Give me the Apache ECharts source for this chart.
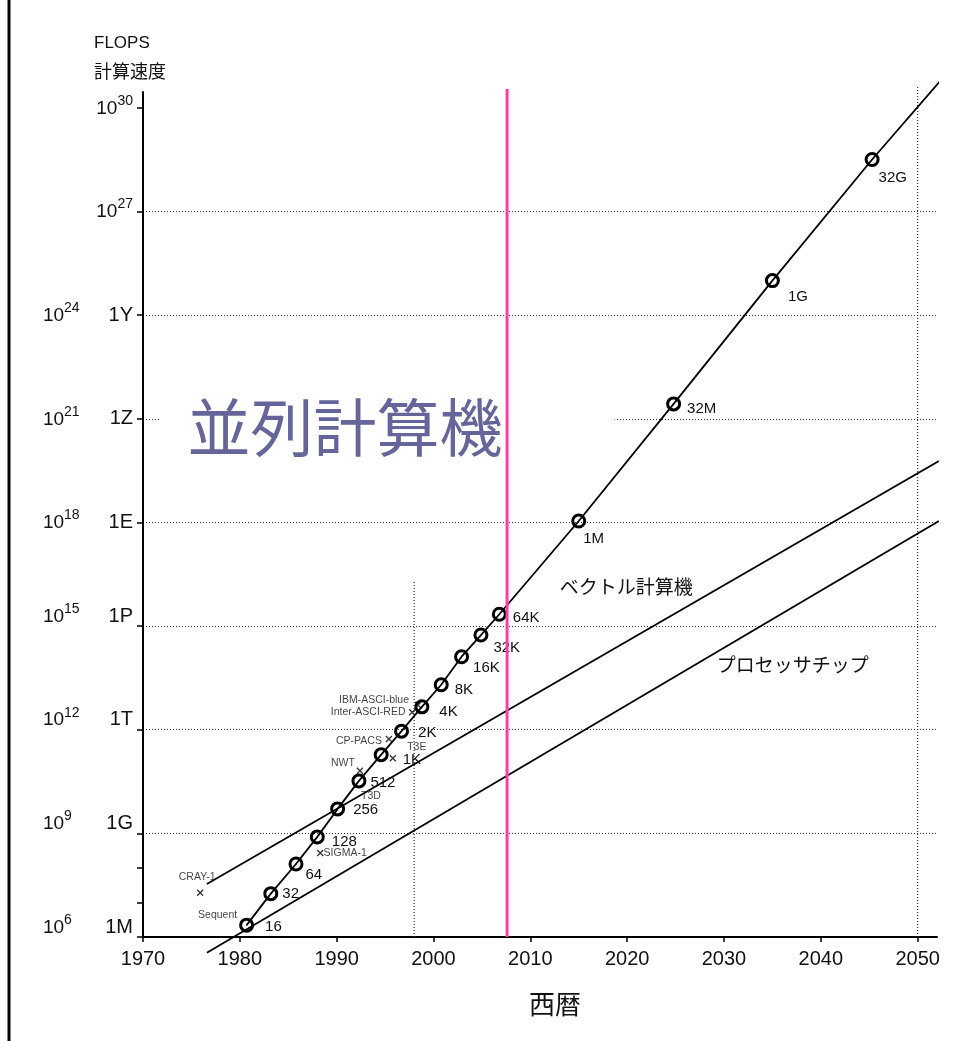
<!DOCTYPE html>
<html>
<head>
<meta charset="utf-8">
<script src="https://cdn.jsdelivr.net/npm/echarts@6/dist/echarts.min.js"></script>
<style>
  html, body { margin: 0; padding: 0; background: #fff; }
  #chart { width: 961px; height: 1041px; }
</style>
</head>
<body>
<div id="chart"></div>
<script>
// ---- data ---------------------------------------------------------------
// Parallel computers: processor count, year, peak FLOPS
const parallelLabels = ['16', '32', '64', '128', '256', '512', '1K', '2K', '4K', '8K', '16K', '32K', '64K', '1M', '32M', '1G', '32G'];
const parallelYears  = [1980.7, 1983.2, 1985.8, 1988.0, 1990.1, 1992.3, 1994.6, 1996.7, 1998.8, 2000.8, 2002.9, 2004.9, 2006.8, 2015.0, 2024.8, 2035.0, 2045.3];
const parallelFlops  = [2.2e6, 1.8e7, 1.3e8, 7.9e8, 5.1e9, 3.3e10, 1.9e11, 9.1e11, 4.6e12, 2.0e13, 1.3e14, 5.5e14, 2.2e15, 1.1e18, 2.7e21, 1.0e25, 3.2e28];
const parallelTrendEnd = [2052.6, 7.4e30];

// Vector computer and processor chip trend lines (start, end)
const vectorYears = [1976.6, 2052.2];
const vectorFlops = [3.4e7, 6.0e19];
const chipYears   = [1976.6, 2052.2];
const chipFlops   = [3.5e5, 1.1e18];

// Individual machines
const machineNames = ['CRAY-1', 'Sequent', 'SIGMA-1', 'T3D', 'NWT', 'CP-PACS', 'T3E', 'Inter-ASCI-RED', 'IBM-ASCI-blue'];
const machineYears = [1975.9, 1980.7, 1988.3, 1992.3, 1992.4, 1995.4, 1995.8, 1997.8, 1998.4];
const machineFlops = [1.9e7, 2.2e6, 2.7e8, 3.3e10, 6.5e10, 5.4e11, 1.5e11, 3.2e12, 5.2e12];
const machineHidden = ['Sequent', 'T3D'];   // drawn under the parallel-machine circles

// Present year marker and dotted guides
const nowYear = 2007.6;
const guideYears = [1998, 2050];
const guideTops  = [1.9e16, 4.6e30];

// Axis ticks
const xTicks = [1970, 1980, 1990, 2000, 2010, 2020, 2030, 2040, 2050];
const yTickExp = [6, 9, 12, 15, 18, 21, 24, 27, 30];
const yMinorExp = [7, 8];
const yUnits = { 6: '1M', 9: '1G', 12: '1T', 15: '1P', 18: '1E', 21: '1Z', 24: '1Y' };

// ---- styling helpers ----------------------------------------------------
const lg = Math.log10;
const LATIN = "'Liberation Sans', Arial, 'Noto Sans CJK JP', sans-serif";
const CJK = "'Noto Sans CJK JP', 'Noto Sans CJK SC', sans-serif";
const Y_MAX = 30.46;

// label offsets for the parallel-machine circles ([dx, dy] from 'right')
const parallelLabelOffsets = [[6, 2], [-1, 0], [-3, 11], [2, 5], [3, 1], [-1, 2], [9, 5], [4, 2], [5, 5], [1, 5], [-1, 11], [0, 13], [1, 4], [-8, 18], [1, 5], [3, 16], [-6, 18]];
// label offsets for machine annotations (centre of text relative to point)
const machineLabelOffsets = [[-3, -16], [-29, -10], [25, 0], [12, 15], [-17, -8], [-30, 2], [24, -11], [-44, 0], [-44, -5]];

const crossPath = 'path://M0,0L10,10M10,0L0,10';

// Rich styles for the y labels: "10" + superscript exponent + unit name.
// Labels of the lower decades sit a little above their tick.
const yRich = {};
yTickExp.forEach(e => {
  const shift = e <= 15 ? 10 : 0;
  const hasUnit = !!yUnits[e];
  const supW = String(e).length * 7.8;
  const base = { verticalAlign: 'bottom', fontFamily: LATIN, color: '#111' };
  yRich['n' + e] = Object.assign({}, base, { fontSize: 19, lineHeight: 20, padding: [0, 0, shift, 0] });
  yRich['s' + e] = Object.assign({}, base, { fontSize: 14, lineHeight: 14,
    padding: [0, hasUnit ? Math.max(0, 26 - supW) : 0, 10 + shift, 0] });
  yRich['u' + e] = Object.assign({}, base, { fontSize: 20, lineHeight: 20, width: 43, align: 'right', padding: [0, 0, shift, 0] });
});

function yLabel(v) {
  const e = Math.round(v);
  const unit = yUnits[e];
  if (!unit) return `{n${e}|10}{s${e}|${e}}`;
  return `{n${e}|10}{s${e}|${e}}{u${e}|${unit}}`;
}

// ---- series -------------------------------------------------------------
const parallelData = parallelYears.map((y, i) => ({
  value: [y, lg(parallelFlops[i])],
  name: parallelLabels[i],
  label: { offset: parallelLabelOffsets[i] }
}));
parallelData.push({
  value: [parallelTrendEnd[0], lg(parallelTrendEnd[1])],
  symbol: 'none',
  label: { show: false }
});

const machineData = machineNames.map((n, i) => {
  const hidden = machineHidden.indexOf(n) >= 0;
  return {
    value: [machineYears[i], lg(machineFlops[i])],
    name: n,
    symbolSize: hidden ? 0.5 : 6,
    label: { offset: machineLabelOffsets[i] }
  };
});

const guideSeries = guideYears.map((x, i) => ({
  type: 'line',
  data: [[x, 6], [x, lg(guideTops[i])]],
  symbol: 'none',
  clip: false,
  silent: true,
  z: 1,
  lineStyle: { color: '#333', width: 1.2, type: [1, 2] }
}));

const trendLine = { color: '#000', width: 1.8 };

const option = {
  animation: false,
  backgroundColor: '#fff',
  textStyle: { fontFamily: LATIN },
  title: {
    text: '{a|FLOPS}\n{b|計算速度}',
    left: 89, top: 24,
    textStyle: {
      fontWeight: 'normal',
      rich: {
        a: { fontSize: 17, fontFamily: LATIN, fontWeight: 'normal', color: '#111', lineHeight: 28 },
        b: { fontSize: 18, fontFamily: CJK, fontWeight: 'normal', color: '#111', lineHeight: 28 }
      }
    }
  },
  grid: { left: 143, right: 24, top: 92, bottom: 104, containLabel: false },
  xAxis: {
    type: 'value',
    min: 1970, max: 2052, interval: 10,
    name: '西暦',
    nameLocation: 'middle',
    nameGap: 54,
    nameTextStyle: { fontFamily: CJK, fontSize: 26, color: '#111', padding: [0, 0, 0, 30] },
    axisLine: { lineStyle: { color: '#000', width: 2 } },
    axisTick: { customValues: xTicks, length: 5, lineStyle: { color: '#000', width: 1.5 } },
    axisLabel: { customValues: xTicks, formatter: v => String(v), fontSize: 20, color: '#111', margin: 12, fontFamily: LATIN },
    splitLine: { show: false }
  },
  yAxis: [{
    type: 'value',
    min: 6, max: Y_MAX, interval: 3,
    axisLine: { lineStyle: { color: '#000', width: 2 } },
    axisTick: { customValues: yTickExp, length: 6, lineStyle: { color: '#000', width: 1.5 } },
    axisLabel: { customValues: yTickExp, margin: 10, formatter: yLabel, rich: yRich },
    splitLine: { show: true, showMinLine: false, showMaxLine: false, lineStyle: { color: '#333', width: 1.2, type: [1, 2] } }
  }, {
    type: 'value',
    min: 6, max: Y_MAX,
    position: 'left',
    axisLine: { show: false },
    axisLabel: { show: false },
    splitLine: { show: false },
    axisTick: { show: true, customValues: yMinorExp, length: 6, lineStyle: { color: '#000', width: 1.5 } }
  }],
  graphic: [{
    type: 'line',
    shape: { x1: 9, y1: 0, x2: 9, y2: 1041 },
    style: { stroke: '#000', lineWidth: 3 },
    silent: true
  }],
  series: [
    ...guideSeries,
    {
      name: 'プロセッサチップ',
      type: 'line',
      data: chipYears.map((y, i) => [y, lg(chipFlops[i])]),
      symbol: 'none',
      clip: false,
      z: 2,
      lineStyle: trendLine,
      markPoint: {
        symbol: 'circle', symbolSize: 0,
        data: [{ coord: [2037.1, 13.87], value: 'プロセッサチップ' }],
        label: { show: true, position: 'inside', formatter: '{c}', fontFamily: CJK, fontSize: 19, color: '#111' }
      }
    },
    {
      name: 'ベクトル計算機',
      type: 'line',
      data: vectorYears.map((y, i) => [y, lg(vectorFlops[i])]),
      symbol: 'none',
      clip: false,
      z: 2,
      lineStyle: trendLine,
      markPoint: {
        symbol: 'circle', symbolSize: 0,
        data: [{ coord: [2019.9, 16.13], value: 'ベクトル計算機' }],
        label: { show: true, position: 'inside', formatter: '{c}', fontFamily: CJK, fontSize: 19, color: '#111' }
      }
    },
    {
      name: '並列計算機',
      type: 'line',
      data: parallelData,
      symbol: 'circle',
      symbolSize: 12,
      showAllSymbol: true,
      clip: false,
      z: 3,
      lineStyle: trendLine,
      itemStyle: { color: 'rgba(255,255,255,0)', borderColor: '#000', borderWidth: 3 },
      label: {
        show: true, position: 'right', distance: 5,
        formatter: p => p.name, fontSize: 15, color: '#111', fontFamily: LATIN
      },
      markPoint: {
        symbol: 'circle', symbolSize: 0,
        data: [{ coord: [1995.25, 20.75], value: '並列計算機' }],
        label: {
          show: true, position: 'inside', formatter: '{c}',
          fontFamily: CJK, fontSize: 63, lineHeight: 65, color: '#65659a',
          backgroundColor: '#fff', padding: [20, 112, 0, 27]
        }
      }
    },
    {
      name: 'machines',
      type: 'scatter',
      data: machineData,
      symbol: crossPath,
      clip: false,
      z: 4,
      itemStyle: { color: 'rgba(0,0,0,0)', borderColor: '#000', borderWidth: 1.3 },
      label: {
        show: true, position: 'inside', formatter: p => p.name,
        fontSize: 10.5, color: '#111', fontFamily: LATIN
      }
    },
    {
      name: 'now',
      type: 'line',
      data: [[nowYear, 6], [nowYear, 30.55]],
      symbol: 'none',
      clip: false,
      silent: true,
      z: 6,
      lineStyle: { color: '#ff3fa4', width: 3 }
    }
  ]
};

const chart = echarts.init(document.getElementById('chart'), null, { renderer: 'canvas' });
chart.setOption(option);
</script>
</body>
</html>
